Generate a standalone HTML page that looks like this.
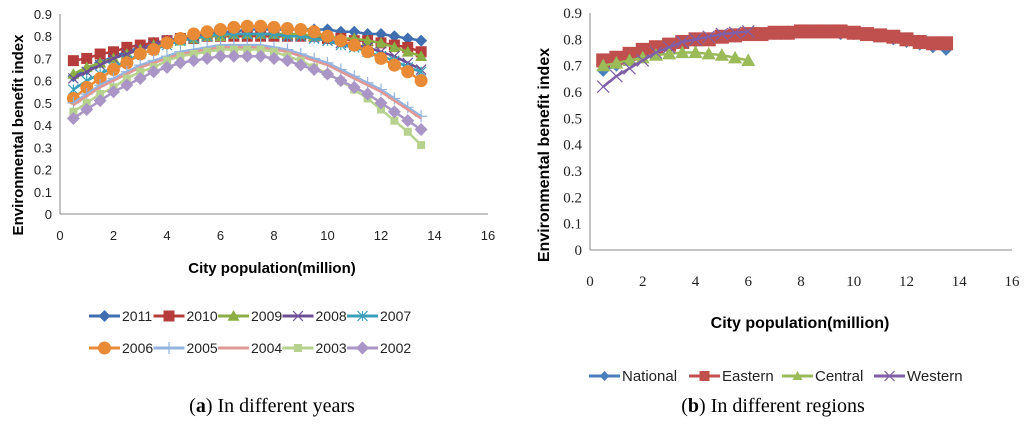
<!DOCTYPE html>
<html><head><meta charset="utf-8"><style>
html,body{margin:0;padding:0;background:#fff;width:1024px;height:427px;overflow:hidden}
svg{display:block}
</style></head><body>
<svg id="chart" width="1024" height="427" xmlns="http://www.w3.org/2000/svg" font-family="Liberation Sans, sans-serif"></svg>
<script>
const xCats = [0.5,1,1.5,2,2.5,3,3.5,4,4.5,5,5.5,6,6.5,7,7.5,8,8.5,9,9.5,10,10.5,11,11.5,12,12.5,13,13.5];
const xTicks = [0,2,4,6,8,10,12,14,16];
const yTicks = [0,0.1,0.2,0.3,0.4,0.5,0.6,0.7,0.8,0.9];
const s2011 = [0.62,0.65,0.68,0.71,0.73,0.75,0.77,0.78,0.79,0.80,0.81,0.82,0.82,0.83,0.83,0.83,0.83,0.83,0.83,0.83,0.82,0.82,0.81,0.81,0.80,0.79,0.78];
const s2010 = [0.69,0.70,0.72,0.73,0.75,0.76,0.77,0.78,0.79,0.79,0.80,0.80,0.80,0.80,0.80,0.80,0.80,0.80,0.80,0.79,0.79,0.78,0.78,0.77,0.76,0.75,0.73];
const s2009 = [0.63,0.66,0.68,0.70,0.72,0.74,0.76,0.77,0.78,0.79,0.80,0.80,0.81,0.81,0.81,0.81,0.81,0.81,0.80,0.80,0.79,0.79,0.78,0.77,0.75,0.73,0.71];
const s2008 = [0.61,0.64,0.67,0.70,0.72,0.74,0.76,0.78,0.79,0.80,0.80,0.81,0.81,0.81,0.81,0.81,0.80,0.80,0.79,0.78,0.77,0.76,0.75,0.73,0.71,0.68,0.65];
const s2007 = [0.56,0.60,0.63,0.66,0.69,0.72,0.74,0.76,0.78,0.79,0.80,0.81,0.81,0.81,0.81,0.81,0.80,0.80,0.79,0.78,0.76,0.75,0.73,0.71,0.69,0.66,0.64];
const s2006 = [0.52,0.57,0.61,0.65,0.68,0.72,0.74,0.77,0.79,0.81,0.82,0.83,0.84,0.845,0.845,0.84,0.835,0.83,0.82,0.80,0.78,0.76,0.73,0.70,0.67,0.64,0.60];
const s2005 = [0.50,0.54,0.58,0.61,0.64,0.67,0.69,0.71,0.73,0.74,0.75,0.76,0.76,0.76,0.76,0.75,0.74,0.72,0.70,0.68,0.65,0.62,0.59,0.56,0.52,0.48,0.44];
const s2004 = [0.49,0.53,0.57,0.60,0.63,0.66,0.68,0.70,0.72,0.73,0.74,0.75,0.75,0.75,0.75,0.74,0.73,0.71,0.69,0.67,0.64,0.61,0.58,0.55,0.51,0.47,0.43];
const s2003 = [0.46,0.50,0.54,0.57,0.61,0.64,0.66,0.69,0.71,0.72,0.73,0.74,0.74,0.74,0.74,0.73,0.71,0.69,0.66,0.63,0.60,0.56,0.52,0.47,0.42,0.37,0.31];
const s2002 = [0.43,0.47,0.51,0.55,0.58,0.61,0.64,0.66,0.68,0.69,0.70,0.71,0.71,0.71,0.71,0.70,0.69,0.67,0.65,0.63,0.60,0.57,0.54,0.50,0.46,0.42,0.38];
const rNational = [0.68,0.70,0.72,0.74,0.76,0.77,0.78,0.79,0.80,0.81,0.81,0.82,0.82,0.82,0.83,0.83,0.83,0.83,0.82,0.82,0.82,0.81,0.80,0.79,0.78,0.77,0.76];
const rEastern = [0.72,0.73,0.745,0.76,0.77,0.78,0.79,0.80,0.80,0.81,0.815,0.82,0.82,0.825,0.825,0.83,0.83,0.83,0.83,0.825,0.82,0.815,0.81,0.80,0.79,0.785,0.785];
const rCentral = [0.70,0.71,0.72,0.73,0.74,0.745,0.75,0.75,0.745,0.74,0.73,0.72];
const rWestern = [0.62,0.66,0.69,0.72,0.75,0.77,0.79,0.80,0.81,0.82,0.825,0.83];

const NS='http://www.w3.org/2000/svg';
const svg=document.getElementById('chart');
function mk(tag,attrs,parent,text){const e=document.createElementNS(NS,tag);for(const k in attrs)e.setAttribute(k,attrs[k]);if(text!==undefined)e.textContent=text;(parent||svg).appendChild(e);return e;}

function marker(g,type,x,y,color,sz){
  const s=sz;
  if(type==='diamond') return mk('polygon',{points:`${x},${y-s} ${x+s},${y} ${x},${y+s} ${x-s},${y}`,fill:color},g);
  if(type==='square') return mk('rect',{x:x-s,y:y-s,width:2*s,height:2*s,fill:color},g);
  if(type==='triangle') return mk('polygon',{points:`${x},${y-s} ${x+s},${y+s*0.8} ${x-s},${y+s*0.8}`,fill:color},g);
  if(type==='circle') return mk('circle',{cx:x,cy:y,r:s,fill:color},g);
  if(type==='x') return mk('path',{d:`M${x-s} ${y-s}L${x+s} ${y+s}M${x-s} ${y+s}L${x+s} ${y-s}`,stroke:color,'stroke-width':1.2,fill:'none'},g);
  if(type==='star') return mk('path',{d:`M${x-s} ${y-s}L${x+s} ${y+s}M${x-s} ${y+s}L${x+s} ${y-s}M${x} ${y-s}L${x} ${y+s}`,stroke:color,'stroke-width':1.2,fill:'none'},g);
  if(type==='plus') return mk('path',{d:`M${x-s} ${y}L${x+s} ${y}M${x} ${y-s}L${x} ${y+s}`,stroke:color,'stroke-width':1.2,fill:'none'},g);
  return null;
}

function drawChart(cfg){
  const {x0,x1,y0,y1,name,tickFont,tickSize}=cfg;
  const g=mk('g',{},svg);
  
  
  const sx=v=>x0+(v-0)/(16-0)*(x1-x0);
  const sy=v=>y0-(v/0.9)*(y0-y1);
  mk('line',{x1:x0,y1:y1,x2:x0,y2:y0,stroke:'#888','stroke-width':1},g);
  mk('line',{x1:x0,y1:y0,x2:x1,y2:y0,stroke:'#888','stroke-width':1},g);
  yTicks.forEach(t=>{
    const e=mk('text',{x:x0-8,y:sy(t)+5,'text-anchor':'end','font-size':tickSize,'font-family':tickFont,fill:'#222'},g,String(t));
    
    
  });
  xTicks.forEach(t=>{
    const e=mk('text',{x:sx(t),y:y0+cfg.xTickDy,'text-anchor':'middle','font-size':tickSize,'font-family':tickFont,fill:'#222'},g,String(t));
    
    
  });
  cfg.series.forEach(se=>{
    const sg=mk('g',{},g);
    
    
    const pts=se.data.map((v,i)=>[sx(xCats[i]),sy(v)]);
    mk('polyline',{points:pts.map(p=>p.join(',')).join(' '),fill:'none',stroke:se.color,'stroke-width':se.lw||2.5},sg);
    pts.forEach(p=>{const m=marker(sg,se.marker,p[0],p[1],se.mcolor||se.color,se.size||5); if(m){}});
  });
  return {sx,sy};
}

const leftSeries=[
 {label:'2011',data:s2011,color:'#3f6fb0',marker:'diamond',size:6},
 {label:'2010',data:s2010,color:'#b53c3a',marker:'square',size:5.5},
 {label:'2009',data:s2009,color:'#8cae45',marker:'triangle',size:6},
 {label:'2008',data:s2008,color:'#6e4f96',marker:'x',size:5},
 {label:'2007',data:s2007,color:'#3aa0ba',marker:'star',size:5},
 {label:'2006',data:s2006,color:'#e98a37',marker:'circle',size:6.5},
 {label:'2005',data:s2005,color:'#94b4df',marker:'plus',size:6},
 {label:'2004',data:s2004,color:'#df9896',marker:'none'},
 {label:'2003',data:s2003,color:'#b7d28f',marker:'square',size:4},
 {label:'2002',data:s2002,color:'#a996c6',marker:'diamond',size:6.5},
];
drawChart({x0:60,x1:488,y0:214,y1:14,name:'chart-a-years',tickFont:'Liberation Sans, sans-serif',tickSize:13,xTickDy:26,series:leftSeries});

const rightSeries=[
 {label:'National',data:rNational,color:'#4a7ebb',marker:'diamond',size:6},
 {label:'Eastern',data:rEastern,color:'#c0504d',marker:'square',size:7},
 {label:'Central',data:rCentral,color:'#9bbb59',marker:'triangle',size:7},
 {label:'Western',data:rWestern,color:'#7f5fa8',marker:'x',size:6},
];
drawChart({x0:590,x1:1012,y0:250,y1:13,name:'chart-b-regions',tickFont:'Liberation Serif, serif',tickSize:15,xTickDy:36,series:rightSeries});

function text(x,y,str,attrs,name){const e=mk('text',Object.assign({x:x,y:y},attrs),svg,str);return e;}
text(272,273,'City population(million)',{'text-anchor':'middle','font-size':15,'font-weight':'bold'},'x-axis-title-a');
text(800,328,'City population(million)',{'text-anchor':'middle','font-size':16,'font-weight':'bold'},'x-axis-title-b');
text(0,0,'Environmental benefit index',{'text-anchor':'middle','font-size':15,'font-weight':'bold',transform:'translate(23,135) rotate(-90)'},'y-axis-title-a');
text(0,0,'Environmental benefit index',{'text-anchor':'middle','font-size':16,'font-weight':'bold',transform:'translate(549,155) rotate(-90)'},'y-axis-title-b');

function legendEntry(x,y,se,name,fs,lineLen){
  const g=mk('g',{},svg);
  
  
  mk('line',{x1:x,y1:y,x2:x+lineLen,y2:y,stroke:se.color,'stroke-width':3},g);
  marker(g,se.marker,x+lineLen/2,y,se.color,(se.size||5));
  mk('text',{x:x+lineLen+2,y:y+5,'font-size':fs,fill:'#222'},g,se.label);
}
leftSeries.forEach((se,i)=>{
  legendEntry(89+(i%5)*64.5, i<5?316:348, se,'legend-entry-'+se.label,14,31);
});
const rx=[589,689,782,874];
rightSeries.forEach((se,i)=>{
  legendEntry(rx[i],376,{...se,size:5},'legend-entry-'+se.label.toLowerCase(),15,31);
});

const ca=text(272,412,'',{'text-anchor':'middle','font-size':20,'font-family':'Liberation Serif, serif'},'caption-a');
ca.innerHTML='(<tspan font-weight="bold">a</tspan>) In different years';
const cb=text(773,412,'',{'text-anchor':'middle','font-size':20,'font-family':'Liberation Serif, serif'},'caption-b');
cb.innerHTML='(<tspan font-weight="bold">b</tspan>) In different regions';
</script>
</body></html>
